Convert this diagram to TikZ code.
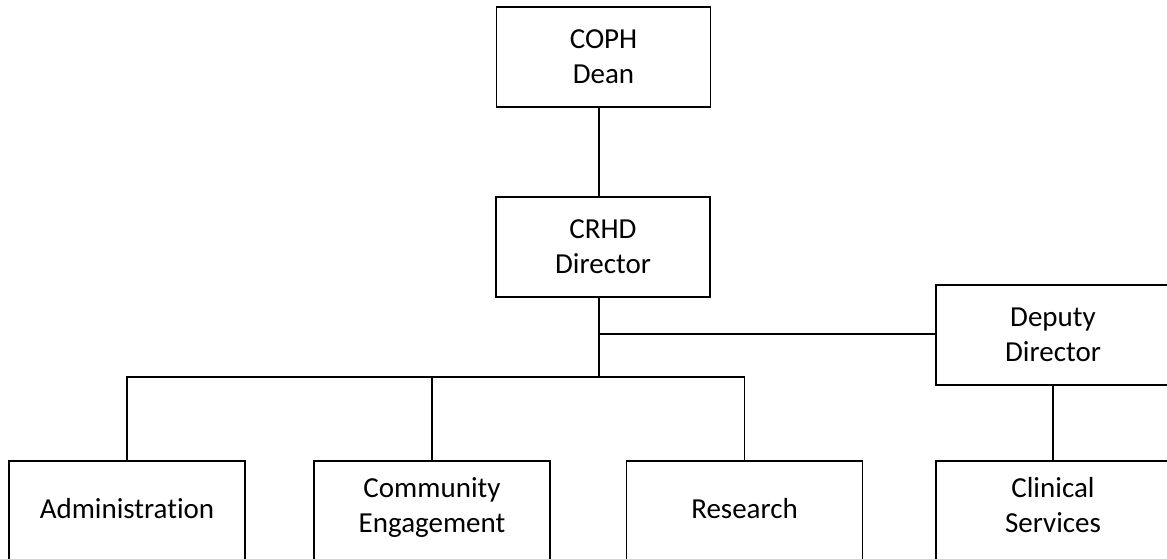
\documentclass[tikz,border=0pt]{standalone}
\usepackage{fontspec}
\setmainfont{Carlito}[Ligatures=NoCommon]
\newcommand{\uptext}[2][4.5pt]{\raisebox{#1}[\height][\depth]{\begin{tabular}{@{}c@{}}#2\end{tabular}}}
\begin{document}
\begin{tikzpicture}[x=1pt,y=-1pt,
  orgbox/.style={draw=black,line width=1.7pt,fill=white,minimum width=#1,inner sep=0pt,align=center,
    font=\fontsize{29}{35}\selectfont},
  orgbox/.default=214pt,
  link/.style={draw=black,line width=1.4pt}]
\useasboundingbox (0,0) rectangle (1167,558);
\clip (0,0) rectangle (1167,558);
\fill[white] (0,0) rectangle (1167,558);
% top boxes
\node[orgbox=214pt,minimum height=100pt] (dean) at (603.5,57) {COPH\\Dean};
\node[orgbox=214pt,minimum height=100pt] (dir) at (603,247) {CRHD\\Director};
\node[orgbox=234pt,minimum height=100pt] (dep) at (1053,335) {Deputy\\Director};
% bottom boxes
\node[orgbox=236pt,minimum height=102pt] (adm) at (127,512) {\uptext[0.5pt]{Administration}};
\node[orgbox=236pt,minimum height=102pt] (ce) at (432,512) {\uptext{Community\\Engagement}};
\node[orgbox=236pt,minimum height=102pt] (res) at (744.5,512) {\uptext[0.5pt]{Research}};
\node[orgbox=234pt,minimum height=102pt] (cs) at (1053,512) {\uptext{Clinical\\Services}};
% junctions
\coordinate (trunk) at (599,377);
\coordinate (mid) at (599,334);
% connectors
\draw[link] (dean.south -| trunk) -- (dir.north -| trunk);
\draw[link] (dir.south -| trunk) -- (trunk);
\draw[link] (mid) -- (mid -| dep.west);
\draw[link] (adm.north) |- (res.north |- trunk) -- (res.north);
\draw[link] (ce.north) -- (ce.north |- trunk);
\draw[link] (dep.south) -- (cs.north);
\end{tikzpicture}
\end{document}
